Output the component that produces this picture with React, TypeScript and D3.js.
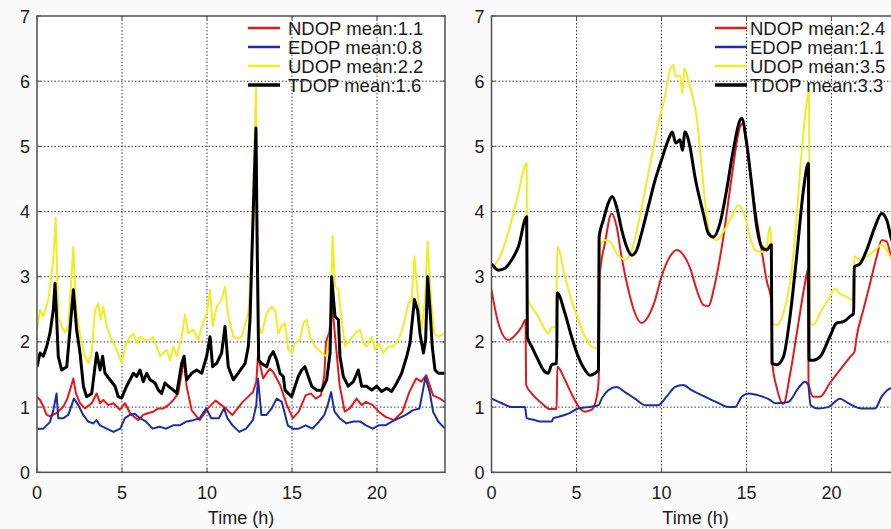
import React from "react";
import * as d3 from "d3";

type Pt = [number, number];

const seriesNames = ["NDOP", "EDOP", "UDOP", "TDOP"];
const leftMeans = [1.1, 0.8, 2.2, 1.6];
const rightMeans = [2.4, 1.1, 3.5, 3.3];
const xTicks = [0, 5, 10, 15, 20];
const yTicks = [0, 1, 2, 3, 4, 5, 6, 7];
const xLabel = "Time (h)";

const leftNDOP: Pt[] = [[0,1.16],[0.18,1.11],[0.37,1.01],[0.57,0.88],[0.76,0.86],[1.16,0.91],[1.55,1.01],[1.75,1.11],[1.94,1.26],[2.14,1.44],[2.29,1.21],[2.53,1.06],[2.82,0.98],[3.22,1.06],[3.51,1.21],[3.71,1.06],[3.9,1.11],[4.2,1.03],[4.49,1.06],[4.69,1.01],[4.88,0.96],[5.18,1.06],[5.47,0.91],[5.67,0.86],[5.96,0.8],[6.25,0.88],[6.55,0.91],[6.84,0.93],[7.14,0.98],[7.43,0.98],[7.73,1.03],[8.02,1.11],[8.31,1.21],[8.51,1.52],[8.65,1.75],[8.8,1.32],[9.1,0.95],[9.57,0.8],[10.05,0.98],[10.5,1.1],[11.1,0.98],[11.5,0.88],[12.1,1.08],[12.7,1.23],[12.9,1.39],[13.0,1.8],[13.3,1.44],[13.7,1.59],[13.9,1.54],[14.3,1.34],[14.7,1.03],[15.05,0.83],[15.4,0.93],[15.8,1.18],[16.1,1.21],[16.4,1.13],[16.7,1.18],[16.9,1.49],[17.0,2.0],[17.2,2.15],[17.35,2.6],[17.6,1.9],[17.8,1.34],[18.1,0.93],[18.4,0.98],[18.8,1.13],[19.1,1.03],[19.35,1.08],[19.75,1.03],[20.1,0.93],[20.5,0.85],[21.0,0.8],[21.5,0.93],[21.9,1.23],[22.3,1.44],[22.6,1.39],[22.9,1.49],[23.3,1.18],[23.7,1.13],[24,1.08]];

const leftEDOP: Pt[] = [[0,0.67],[0.37,0.67],[0.76,0.77],[0.96,0.95],[1.15,1.21],[1.25,0.83],[1.55,0.83],[1.84,0.88],[2.04,1.03],[2.17,1.13],[2.43,1.03],[2.72,0.88],[3.0,0.78],[3.3,0.75],[3.5,0.8],[3.7,0.72],[4.1,0.67],[4.5,0.62],[4.9,0.67],[5.17,0.83],[5.46,0.88],[5.75,0.9],[6.05,0.83],[6.4,0.78],[6.8,0.67],[7.2,0.7],[7.6,0.67],[8.0,0.72],[8.4,0.72],[8.8,0.78],[9.2,0.8],[9.57,0.83],[9.96,0.98],[10.25,0.83],[10.7,0.83],[11.0,0.98],[11.2,0.83],[11.5,0.72],[11.9,0.62],[12.3,0.67],[12.7,0.8],[12.9,1.03],[13.0,1.44],[13.2,0.88],[13.5,0.88],[13.8,0.98],[14.1,1.13],[14.4,1.08],[14.55,0.93],[14.75,0.72],[15.05,0.67],[15.4,0.67],[15.8,0.72],[16.2,0.67],[16.6,0.78],[16.9,0.88],[17.1,1.03],[17.3,1.23],[17.5,0.93],[17.8,0.83],[18.2,0.75],[18.6,0.78],[19.0,0.78],[19.35,0.72],[19.75,0.67],[20.1,0.72],[20.5,0.72],[20.9,0.78],[21.3,0.83],[21.7,0.88],[22.1,0.95],[22.5,0.98],[22.85,1.46],[23.1,1.23],[23.3,0.93],[23.6,0.78],[24,0.67]];

const leftUDOP: Pt[] = [[0,2.19],[0.18,2.49],[0.37,2.39],[0.67,2.65],[0.96,3.26],[1.1,3.9],[1.25,2.39],[1.45,2.24],[1.65,2.14],[1.84,2.24],[1.98,2.8],[2.14,3.46],[2.29,2.54],[2.53,2.13],[2.82,1.78],[3.02,1.67],[3.22,1.83],[3.41,2.49],[3.61,2.59],[3.75,2.34],[3.9,2.54],[4.1,2.24],[4.39,2.03],[4.69,1.88],[4.98,1.67],[5.18,1.93],[5.47,2.08],[5.67,2.13],[5.86,1.98],[6.06,2.08],[6.35,2.03],[6.65,2.03],[6.84,2.08],[7.04,1.93],[7.24,1.78],[7.43,1.83],[7.63,1.88],[7.82,1.72],[8.02,1.93],[8.22,1.78],[8.51,2.08],[8.71,2.42],[8.9,2.13],[9.2,2.19],[9.49,2.03],[9.69,2.24],[9.98,2.44],[10.18,2.8],[10.33,2.24],[10.57,2.54],[10.86,2.65],[11.06,2.85],[11.25,2.39],[11.55,2.08],[11.84,2.05],[12.04,2.08],[12.43,2.44],[12.6,3.16],[12.75,4.6],[12.88,5.9],[12.95,4.0],[13.04,2.24],[13.22,2.13],[13.51,2.44],[13.8,2.54],[14.0,2.49],[14.2,2.13],[14.39,2.24],[14.59,2.29],[14.78,1.88],[14.98,1.83],[15.18,1.98],[15.47,2.03],[15.67,2.29],[15.86,2.34],[16.06,2.08],[16.35,1.93],[16.75,1.83],[17.04,1.78],[17.24,2.13],[17.39,3.62],[17.53,2.85],[17.73,2.8],[17.92,2.34],[18.12,1.93],[18.41,2.03],[18.71,2.13],[19.0,2.19],[19.2,1.98],[19.39,1.93],[19.69,2.08],[19.88,1.88],[20.08,1.98],[20.37,1.83],[20.67,1.93],[20.96,1.93],[21.25,2.03],[21.55,2.24],[21.84,2.59],[22.04,2.65],[22.2,3.31],[22.39,2.75],[22.63,2.19],[22.82,2.65],[22.98,3.54],[23.18,2.65],[23.37,2.13],[23.61,2.08],[24,2.13]];

const leftTDOP: Pt[] = [[0,1.62],[0.18,1.83],[0.37,1.78],[0.57,1.93],[0.76,2.13],[0.96,2.49],[1.06,2.9],[1.16,2.34],[1.25,1.78],[1.45,1.57],[1.75,1.62],[1.94,2.19],[2.14,2.8],[2.33,2.19],[2.53,1.83],[2.73,1.32],[2.92,1.16],[3.22,1.21],[3.41,1.62],[3.51,1.83],[3.71,1.57],[3.86,1.78],[4.0,1.52],[4.29,1.42],[4.59,1.32],[4.78,1.16],[4.98,1.14],[5.27,1.32],[5.47,1.42],[5.67,1.52],[5.86,1.47],[6.06,1.57],[6.25,1.39],[6.45,1.52],[6.65,1.42],[6.94,1.37],[7.14,1.26],[7.33,1.21],[7.53,1.37],[7.73,1.32],[8.02,1.26],[8.22,1.21],[8.51,1.67],[8.65,1.78],[8.8,1.42],[9.1,1.52],[9.39,1.57],[9.69,1.52],[9.98,1.78],[10.18,2.08],[10.33,1.62],[10.57,1.67],[10.86,1.83],[11.06,2.24],[11.25,1.62],[11.55,1.42],[11.84,1.52],[12.24,1.67],[12.43,1.93],[12.53,2.34],[12.65,3.4],[12.78,4.5],[12.88,5.28],[12.95,3.5],[13.04,1.72],[13.22,1.67],[13.51,1.62],[13.71,1.78],[13.9,1.85],[14.1,1.72],[14.29,1.52],[14.49,1.47],[14.59,1.26],[14.78,1.21],[14.98,1.16],[15.18,1.32],[15.37,1.47],[15.57,1.57],[15.76,1.62],[15.96,1.47],[16.16,1.32],[16.45,1.26],[16.75,1.26],[17.04,1.42],[17.24,1.83],[17.33,3.0],[17.53,2.39],[17.73,2.34],[17.82,1.78],[18.02,1.47],[18.31,1.32],[18.61,1.39],[18.9,1.57],[19.1,1.32],[19.39,1.32],[19.69,1.26],[19.98,1.32],[20.27,1.24],[20.57,1.29],[20.86,1.24],[21.16,1.37],[21.45,1.52],[21.75,1.78],[21.94,1.98],[22.2,2.65],[22.39,2.49],[22.53,2.13],[22.73,1.83],[22.86,2.03],[22.98,3.0],[23.12,2.49],[23.25,1.93],[23.41,1.57],[23.61,1.52],[24,1.52]];

const rightNDOP: Pt[] = [[0,2.8],[0.4,2.29],[0.99,2.03],[1.38,2.1],[1.77,2.23],[2.0,2.34],[2.04,1.34],[2.36,1.21],[2.95,1.06],[3.44,0.97],[3.83,0.97],[3.87,1.62],[4.32,1.42],[4.7,1.21],[5.2,0.98],[5.5,0.93],[5.9,0.96],[6.25,1.25],[6.32,1.54],[6.36,3.0],[6.67,3.51],[7.07,3.97],[7.36,3.77],[7.65,3.31],[8.05,2.8],[8.44,2.44],[8.83,2.29],[9.22,2.39],[9.62,2.64],[10.0,3.0],[10.5,3.31],[10.9,3.41],[11.3,3.33],[11.7,3.12],[12.07,2.8],[12.46,2.57],[12.75,2.55],[13.15,2.9],[13.64,3.61],[14.13,4.53],[14.62,5.3],[14.77,5.35],[15.01,5.0],[15.4,4.23],[15.8,3.56],[16.18,2.95],[16.48,2.59],[16.52,1.67],[16.77,1.31],[17.17,1.05],[17.56,1.5],[18.0,2.2],[18.44,2.9],[18.6,3.1],[18.65,1.37],[18.93,1.16],[19.32,1.16],[19.91,1.37],[20.5,1.57],[21.1,1.77],[21.35,1.85],[21.48,2.08],[21.87,2.49],[22.27,2.9],[22.66,3.31],[22.95,3.56],[23.25,3.54],[23.5,3.31],[24,2.9]];

const rightEDOP: Pt[] = [[0,1.13],[0.6,1.06],[1.19,1.0],[1.97,1.0],[2.07,0.83],[2.56,0.8],[2.85,0.78],[3.54,0.78],[3.64,0.83],[3.93,0.85],[4.52,0.9],[5.1,0.98],[5.7,1.0],[6.3,1.03],[6.48,1.13],[6.87,1.26],[7.36,1.31],[7.85,1.23],[8.44,1.13],[9.03,1.03],[9.81,1.03],[10.3,1.16],[10.8,1.31],[11.28,1.34],[11.77,1.26],[12.56,1.16],[13.35,1.06],[13.93,1.0],[14.32,1.0],[14.72,1.16],[15.11,1.21],[15.7,1.18],[16.38,1.11],[16.67,1.06],[17.46,1.08],[18.05,1.29],[18.44,1.39],[18.63,1.34],[18.77,1.03],[19.22,0.98],[19.8,1.0],[20.5,1.13],[20.99,1.06],[21.77,0.98],[22.56,0.98],[22.95,1.16],[23.5,1.29],[24,1.3]];

const rightUDOP: Pt[] = [[0,3.15],[0.4,3.26],[0.79,3.51],[1.19,3.87],[1.58,4.28],[2.07,4.74],[2.11,2.69],[2.36,2.54],[2.75,2.39],[3.05,2.23],[3.34,2.13],[3.54,2.23],[3.8,2.23],[3.87,3.46],[4.32,3.0],[4.71,2.64],[5.11,2.34],[5.5,2.08],[5.89,1.93],[6.19,1.9],[6.3,1.92],[6.36,3.46],[6.67,3.56],[6.97,3.54],[7.36,3.36],[7.85,3.26],[8.25,3.41],[8.64,3.82],[9.03,4.33],[9.42,4.84],[9.81,5.35],[10.2,5.76],[10.5,6.17],[10.7,6.25],[10.83,6.07],[11.09,6.09],[11.23,5.81],[11.34,6.2],[11.57,6.02],[11.8,5.8],[12.07,5.45],[12.36,4.69],[12.66,3.92],[12.95,3.61],[13.25,3.56],[13.64,3.69],[14.13,3.92],[14.52,4.1],[14.91,3.92],[15.2,3.61],[15.5,3.41],[15.89,3.38],[16.18,3.46],[16.38,3.77],[16.46,3.5],[16.5,2.29],[16.78,2.26],[17.17,2.44],[17.56,2.9],[17.95,3.92],[18.25,4.94],[18.54,5.66],[18.68,5.86],[18.72,2.29],[18.93,2.26],[19.32,2.44],[19.9,2.69],[20.2,2.82],[20.5,2.74],[20.9,2.69],[21.28,2.64],[21.34,3.31],[21.68,3.26],[22.07,3.31],[22.56,3.41],[22.95,3.49],[23.25,3.41],[23.5,3.28],[24,3.1]];

const rightTDOP: Pt[] = [[0,3.2],[0.4,3.1],[0.79,3.13],[1.19,3.26],[1.58,3.46],[2.07,3.92],[2.11,2.08],[2.36,1.93],[2.75,1.72],[3.05,1.57],[3.34,1.52],[3.54,1.65],[3.83,1.67],[3.87,2.75],[4.32,2.44],[4.71,2.08],[5.11,1.77],[5.5,1.57],[5.79,1.49],[6.09,1.52],[6.29,1.57],[6.33,3.61],[6.58,3.87],[6.87,4.13],[7.1,4.23],[7.36,4.07],[7.66,3.72],[7.95,3.46],[8.25,3.33],[8.54,3.41],[8.83,3.67],[9.22,4.07],[9.62,4.48],[10.0,4.79],[10.4,5.1],[10.64,5.22],[10.83,5.05],[11.09,5.1],[11.23,4.94],[11.38,5.22],[11.67,5.0],[11.97,4.53],[12.46,3.97],[12.75,3.67],[13.05,3.61],[13.44,3.82],[13.83,4.33],[14.22,4.94],[14.62,5.4],[14.72,5.43],[15.01,5.05],[15.3,4.43],[15.6,3.77],[15.89,3.46],[16.18,3.41],[16.46,3.49],[16.5,1.67],[16.78,1.65],[17.17,1.77],[17.56,2.39],[17.95,3.31],[18.35,4.33],[18.64,4.74],[18.68,1.72],[18.93,1.72],[19.32,1.77],[19.9,2.08],[20.3,2.29],[20.7,2.31],[21.09,2.39],[21.3,2.44],[21.34,3.15],[21.68,3.2],[22.07,3.41],[22.56,3.77],[22.95,3.97],[23.25,3.87],[23.5,3.61],[24,3.3]];

const COLORS = ["#e3191c", "#1b2f9e", "#eeee22", "#000000"];
const WIDTHS = [2, 2, 2, 3];
const FONT = "'Liberation Sans', Arial, Helvetica, sans-serif";

const TOP = 16;
const BOTTOM = 472.3;

type PanelDef = {
  id: string;
  x0: number;
  x1: number;
  series: Pt[][];
  means: number[];
  legendX: number;
  legendTextX: number;
  curve: d3.CurveFactory;
};

const panels: PanelDef[] = [
  { id: "L", x0: 37, x1: 445, series: [leftNDOP, leftEDOP, leftUDOP, leftTDOP], means: leftMeans, legendX: 248, legendTextX: 288, curve: d3.curveLinear },
  { id: "R", x0: 491.5, x1: 899.5, series: [rightNDOP, rightEDOP, rightUDOP, rightTDOP], means: rightMeans, legendX: 715, legendTextX: 750, curve: d3.curveMonotoneX },
];

function Panel({ p }: { p: PanelDef }) {
  const x = d3.scaleLinear().domain([0, 24]).range([p.x0, p.x1]);
  const y = d3.scaleLinear().domain([0, 7]).range([BOTTOM, TOP]);
  const line = d3
    .line<Pt>()
    .x((d) => x(d[0]))
    .y((d) => y(d[1]))
    .curve(p.curve);
  const gridColor = "#3a3a3a";
  const frame = "#505050";
  return (
    <g>
      <defs>
        <clipPath id={`clip${p.id}`}>
          <rect x={p.x0} y={TOP} width={p.x1 - p.x0} height={BOTTOM - TOP} />
        </clipPath>
      </defs>
      <rect x={p.x0} y={TOP} width={p.x1 - p.x0} height={BOTTOM - TOP} fill="#ffffff" />
      {xTicks.filter((t) => t > 0).map((t) => (
        <line key={`gx${t}`} x1={x(t)} x2={x(t)} y1={TOP} y2={BOTTOM} stroke={gridColor} strokeWidth={1} strokeDasharray="1.5 2" />
      ))}
      {yTicks.filter((t) => t > 0 && t < 7).map((t) => (
        <line key={`gy${t}`} x1={p.x0} x2={p.x1} y1={y(t)} y2={y(t)} stroke={gridColor} strokeWidth={1} strokeDasharray="1.5 2" />
      ))}
      <g clipPath={`url(#clip${p.id})`}>
        {p.series.map((s, i) => (
          <path key={i} d={line(s) || ""} fill="none" stroke={COLORS[i]} strokeWidth={WIDTHS[i]} strokeLinejoin="round" />
        ))}
      </g>
      {xTicks.map((t) => (
        <g key={`tx${t}`}>
          <line x1={x(t)} x2={x(t)} y1={BOTTOM} y2={BOTTOM - 4} stroke={frame} strokeWidth={1} />
          <line x1={x(t)} x2={x(t)} y1={TOP} y2={TOP + 4} stroke={frame} strokeWidth={1} />
          <text x={x(t)} y={BOTTOM + 27} textAnchor="middle" fontSize={18} fontFamily={FONT} fill="#1a1a1a">{t}</text>
        </g>
      ))}
      {yTicks.map((t) => (
        <g key={`ty${t}`}>
          <line x1={p.x0} x2={p.x0 + 4} y1={y(t)} y2={y(t)} stroke={frame} strokeWidth={1} />
          <line x1={p.x1} x2={p.x1 - 4} y1={y(t)} y2={y(t)} stroke={frame} strokeWidth={1} />
          <text x={p.x0 - 7} y={y(t) + 6.5} textAnchor="end" fontSize={18} fontFamily={FONT} fill="#1a1a1a">{t}</text>
        </g>
      ))}
      <rect x={p.x0} y={TOP} width={p.x1 - p.x0} height={BOTTOM - TOP} fill="none" stroke={frame} strokeWidth={1.5} />
      <text x={(p.x0 + p.x1) / 2} y={524} textAnchor="middle" fontSize={18} fontFamily={FONT} fill="#1a1a1a">{xLabel}</text>
      {seriesNames.map((name, i) => {
        const ly = 28 + i * 19;
        return (
          <g key={`lg${i}`}>
            <line x1={p.legendX} x2={p.legendX + 32} y1={ly} y2={ly} stroke={COLORS[i]} strokeWidth={WIDTHS[i] + 0.5} />
            <text x={p.legendTextX} y={ly + 7} fontSize={18.5} fontFamily={FONT} fill="#1a1a1a">{`${name} mean:${p.means[i]}`}</text>
          </g>
        );
      })}
    </g>
  );
}

export default function App() {
  return (
    <svg
      width={891}
      height={529}
      viewBox="0 0 891 529"
      style={{ position: "absolute", left: 0, top: 0, background: "#fbfbfb" }}
    >
      <rect x={0} y={0} width={891} height={529} fill="#fbfbfb" />
      {panels.map((p) => (
        <Panel key={p.id} p={p} />
      ))}
    </svg>
  );
}
